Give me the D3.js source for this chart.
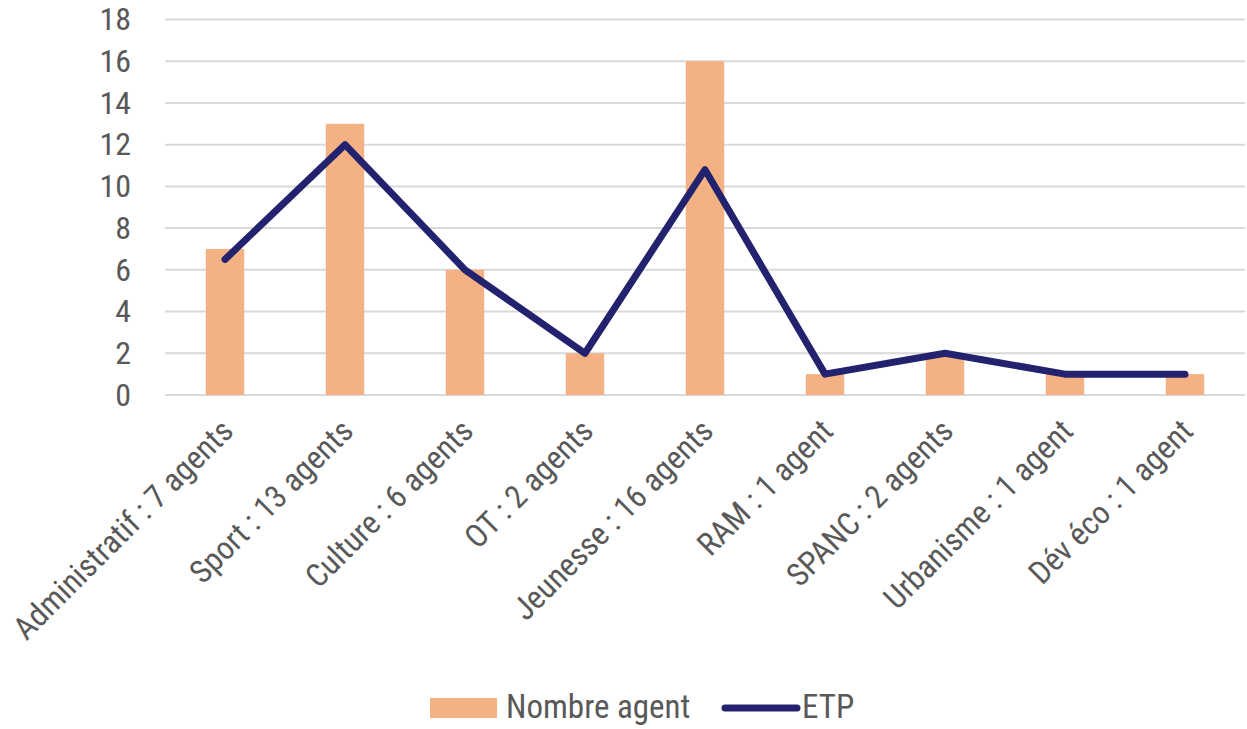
<!DOCTYPE html>
<html><head><meta charset="utf-8">
<script src="https://cdn.jsdelivr.net/npm/d3@7"></script>
<style>
body{margin:0;background:#fff;}
text{font-family:"Liberation Sans Narrow","Roboto Condensed",Roboto,sans-serif;fill:#595959;}
</style></head><body>
<svg id="chart" width="1247" height="729"></svg>
<script>
const categories = ["Administratif : 7 agents","Sport : 13 agents","Culture : 6 agents","OT : 2 agents","Jeunesse : 16 agents","RAM : 1 agent","SPANC : 2 agents","Urbanisme : 1 agent","Dév éco : 1 agent"];
const nombreAgent = [7,13,6,2,16,1,2,1,1];
const etp = [6.5,12,6,2,10.8,1,2,1,1];
const yTicks = [0,2,4,6,8,10,12,14,16,18];

const svg = d3.select("#chart");
const margin = {left:165, right:2};
const W = 1247;
const x = d3.scaleBand().domain(categories).range([margin.left, W - margin.right]).paddingInner(0.68).paddingOuter(0.34);
const xc = d => x(d) + x.bandwidth()/2;
const y = d3.scaleLinear().domain([0,18]).range([395, 19.5]);

// gridlines
svg.append("g").selectAll("line").data(yTicks).join("line")
  .attr("x1", margin.left).attr("x2", W - margin.right)
  .attr("y1", d=>y(d)).attr("y2", d=>y(d))
  .attr("stroke","#d9d9d9").attr("stroke-width",2);

// y axis labels
const yAxis = d3.axisLeft(y).tickValues(yTicks).tickSize(0).tickPadding(0);
const ga = svg.append("g").attr("transform","translate(131,0)").call(yAxis);
ga.select(".domain").remove();
ga.selectAll("text").style("font-size","32px").style("font-family",null).attr("fill","#595959");

// bars
svg.append("g").selectAll("rect").data(nombreAgent).join("rect")
  .attr("x",(d,i)=>x(categories[i])).attr("width",x.bandwidth())
  .attr("y",d=>y(d)).attr("height",d=>y(0)-y(d))
  .attr("fill","#F4B183");

// line
const line = d3.line().x((d,i)=>xc(categories[i])).y(d=>y(d));
svg.append("path").datum(etp).attr("d",line)
  .attr("fill","none").attr("stroke","#22226E").attr("stroke-width",7)
  .attr("stroke-linejoin","round").attr("stroke-linecap","round");

// x labels
svg.append("g").selectAll("text").data(categories).join("text")
  .attr("transform",d=>`translate(${xc(d)+10},${433}) rotate(-45)`)
  .attr("text-anchor","end").style("font-size","32px").text(d=>d);

// legend
const lg = svg.append("g");
lg.append("rect").attr("x",430).attr("y",698).attr("width",67).attr("height",20).attr("fill","#F4B183");
lg.append("text").attr("x",506).attr("y",718).style("font-size","33px").text("Nombre agent");
lg.append("line").attr("x1",725).attr("x2",797).attr("y1",708).attr("y2",708)
  .attr("stroke","#22226E").attr("stroke-width",7).attr("stroke-linecap","round");
lg.append("text").attr("x",802).attr("y",718).style("font-size","33px").text("ETP");
</script></body></html>
